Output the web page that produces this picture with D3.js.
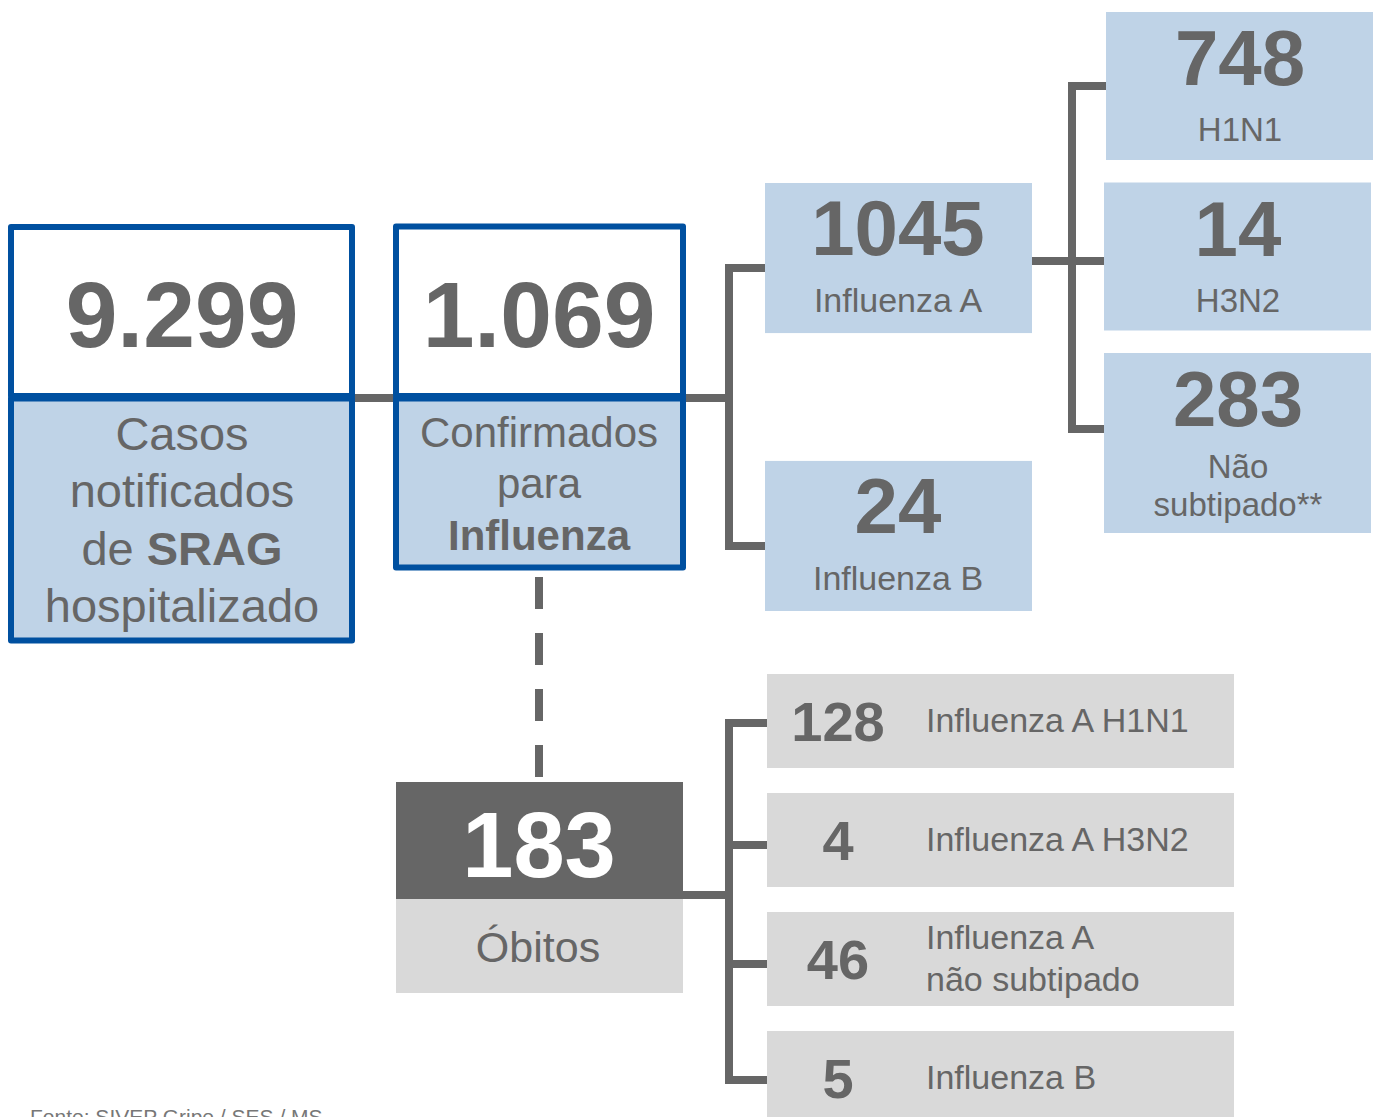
<!DOCTYPE html>
<html>
<head>
<meta charset="utf-8">
<script src="https://cdn.jsdelivr.net/npm/d3@7/dist/d3.min.js"></script>
<style>
body { margin: 0; background: #fff; }
text { font-family: "Liberation Sans", Arial, sans-serif; fill: #666666; }
</style>
</head>
<body>
<div id="contents"></div>
<script>
// data
var mainValues = ["9.299", "1.069"];
var mainLabels = [
	["Casos", "notificados", "de <b>SRAG</b>", "hospitalizado"],
	["Confirmados", "para", "<b>Influenza</b>"]
];
var typeValues = [1045, 24];
var typeLabels = ["Influenza A", "Influenza B"];
var subtypeValues = [748, 14, 283];
var subtypeLabels = [["H1N1"], ["H3N2"], ["Não", "subtipado**"]];
var deathTotal = 183;
var deathTotalLabel = "Óbitos";
var deathValues = [128, 4, 46, 5];
var deathLabels = [["Influenza A H1N1"], ["Influenza A H3N2"], ["Influenza A", "não subtipado"], ["Influenza B"]];
var source = "Fonte: SIVEP Gripe / SES / MS";

var Apl = function() {
	this.svg = d3.select("#contents")
		.append("svg")
		.attr("width", 1374)
		.attr("height", 1117);
	this.grey = "#666666";
	this.blue = "#0050a0";
	this.lightBlue = "#bfd3e7";
	this.lightGrey = "#d9d9d9";

	// vertical positions of each column
	this.yType = d3.scaleBand().domain(d3.range(typeValues.length))
		.range([183, 611]).paddingInner(0.46);
	this.ySub = d3.scaleBand().domain(d3.range(subtypeValues.length))
		.range([12, 501]).paddingInner(0.132);
	this.yDeath = d3.scaleBand().domain(d3.range(deathValues.length))
		.range([674, 1125]).paddingInner(0.21);
};

Apl.prototype.richLine = function(sel, str) {
	var parts = str.split(/(<b>.*?<\/b>)/);
	parts.forEach(function(p) {
		if (p === "") return;
		var bold = p.indexOf("<b>") === 0;
		sel.append("tspan")
			.attr("font-weight", bold ? "bold" : "normal")
			.text(p.replace(/<\/?b>/g, ""));
	});
};

Apl.prototype.connectors = function() {
	var g = this.svg.append("g")
		.attr("fill", "none")
		.attr("stroke", this.grey)
		.attr("stroke-width", 8)
		.attr("stroke-linejoin", "miter");
	var yT = this.yType, yS = this.ySub, yD = this.yDeath;

	// box1 -> box2 -> types
	g.append("line").attr("x1", 352).attr("x2", 396).attr("y1", 398).attr("y2", 398);
	g.append("line").attr("x1", 683).attr("x2", 729).attr("y1", 398).attr("y2", 398);
	g.append("path").attr("d", "M765," + (yT(0) + 85) + "H729V" + (yT(1) + 85) + "H765");

	// influenza A -> subtypes
	g.append("line").attr("x1", 1032).attr("x2", 1104)
		.attr("y1", yT(0) + 78).attr("y2", yT(0) + 78);
	g.append("path").attr("d", "M1106," + (yS(0) + 74) + "H1072V" + (yS(2) + 76) + "H1104");

	// dashed link to deaths
	g.append("line").attr("x1", 539).attr("x2", 539).attr("y1", 577).attr("y2", 779)
		.attr("stroke-dasharray", "32,24");

	// deaths bracket
	g.append("line").attr("x1", 683).attr("x2", 729).attr("y1", 895).attr("y2", 895);
	g.append("path").attr("d", "M767," + (yD(0) + 49) + "H729V" + (yD(3) + 49) + "H767");
	[1, 2].forEach(function(i) {
		g.append("line").attr("x1", 729).attr("x2", 767)
			.attr("y1", yD(i) + 52).attr("y2", yD(i) + 52);
	});
};

Apl.prototype.mainBoxes = function() {
	var self = this;
	var boxes = [
		{ x0: 11, x1: 352, top: 227, bottom: 640.5, cx: 182, numY: 347, labY: [450, 507, 565, 622], fs: 47 },
		{ x0: 396, x1: 683, top: 226.5, bottom: 567.5, cx: 539, numY: 347, labY: [447, 498, 550], fs: 42 }
	];
	boxes.forEach(function(b, i) {
		var g = self.svg.append("g");
		g.append("rect").attr("x", b.x0).attr("y", 398.5)
			.attr("width", b.x1 - b.x0).attr("height", b.bottom - 398.5)
			.attr("fill", self.lightBlue).attr("stroke", self.blue)
			.attr("stroke-width", 6).attr("stroke-linejoin", "round");
		g.append("rect").attr("x", b.x0).attr("y", b.top)
			.attr("width", b.x1 - b.x0).attr("height", 396 - b.top)
			.attr("fill", "#fff").attr("stroke", self.blue)
			.attr("stroke-width", 6).attr("stroke-linejoin", "round");
		g.append("text").attr("x", b.cx).attr("y", b.numY)
			.attr("text-anchor", "middle").attr("font-size", 93)
			.attr("font-weight", "bold").text(mainValues[i]);
		mainLabels[i].forEach(function(line, j) {
			var t = g.append("text").attr("x", b.cx).attr("y", b.labY[j])
				.attr("text-anchor", "middle").attr("font-size", b.fs);
			self.richLine(t, line);
		});
	});
};

Apl.prototype.types = function() {
	var self = this;
	var g = this.svg.append("g");
	var yT = this.yType;
	var gt = g.selectAll("g.type").data(typeValues).enter().append("g")
		.attr("class", "type")
		.attr("transform", function(d, i) { return "translate(765," + yT(i) + ")"; });
	gt.append("rect").attr("width", 267).attr("height", yT.bandwidth())
		.attr("fill", self.lightBlue);
	gt.append("text").attr("x", 133).attr("y", 72).attr("text-anchor", "middle")
		.attr("font-size", 78).attr("font-weight", "bold")
		.text(function(d) { return d; });
	gt.append("text").attr("x", 133).attr("y", 129).attr("text-anchor", "middle")
		.attr("font-size", 34)
		.text(function(d, i) { return typeLabels[i]; });
};

Apl.prototype.subtypes = function() {
	var self = this;
	var yS = this.ySub;
	var gs = this.svg.append("g").selectAll("g.sub").data(subtypeValues).enter().append("g")
		.attr("class", "sub")
		.attr("transform", function(d, i) { return "translate(" + (i == 0 ? 1106 : 1104) + "," + yS(i) + ")"; });
	gs.append("rect").attr("width", 267)
		.attr("height", function(d, i) { return yS.bandwidth() + 32 * (subtypeLabels[i].length - 1); })
		.attr("fill", self.lightBlue);
	gs.append("text").attr("x", 134).attr("y", 73).attr("text-anchor", "middle")
		.attr("font-size", 78).attr("font-weight", "bold")
		.text(function(d) { return d; });
	gs.each(function(d, i) {
		var el = d3.select(this);
		var lines = subtypeLabels[i];
		lines.forEach(function(line, j) {
			var y = lines.length == 1 ? 129 : 125 + 38 * j;
			el.append("text").attr("x", 134).attr("y", y)
				.attr("text-anchor", "middle").attr("font-size", 33).text(line);
		});
	});
};

Apl.prototype.deaths = function() {
	var self = this;
	var yD = this.yDeath;
	var g = this.svg.append("g");
	g.append("rect").attr("x", 396).attr("y", 782).attr("width", 287).attr("height", 117)
		.attr("fill", this.grey);
	g.append("rect").attr("x", 396).attr("y", 899).attr("width", 287).attr("height", 94)
		.attr("fill", this.lightGrey);
	g.append("text").attr("x", 539).attr("y", 877).attr("text-anchor", "middle")
		.attr("font-size", 92).attr("font-weight", "bold").style("fill", "#fff")
		.text(deathTotal);
	g.append("text").attr("x", 538).attr("y", 962).attr("text-anchor", "middle")
		.attr("font-size", 43).text(deathTotalLabel);

	var gd = this.svg.append("g").selectAll("g.death").data(deathValues).enter().append("g")
		.attr("class", "death")
		.attr("transform", function(d, i) { return "translate(767," + yD(i) + ")"; });
	gd.append("rect").attr("width", 467).attr("height", yD.bandwidth())
		.attr("fill", self.lightGrey);
	gd.append("text").attr("x", 71).attr("y", 67).attr("text-anchor", "middle")
		.attr("font-size", 56).attr("font-weight", "bold")
		.text(function(d) { return d; });
	gd.each(function(d, i) {
		var el = d3.select(this);
		var lines = deathLabels[i];
		lines.forEach(function(line, j) {
			var y = lines.length == 1 ? 58 : 37 + 42 * j;
			el.append("text").attr("x", 159).attr("y", y)
				.attr("font-size", 34).text(line);
		});
	});
};

Apl.prototype.footer = function() {
	this.svg.append("text").attr("x", 30).attr("y", 1124)
		.attr("font-size", 21).style("fill", "#777")
		.text(source);
};

var apl = new Apl();
apl.connectors();
apl.mainBoxes();
apl.types();
apl.subtypes();
apl.deaths();
apl.footer();
</script>
</body>
</html>
